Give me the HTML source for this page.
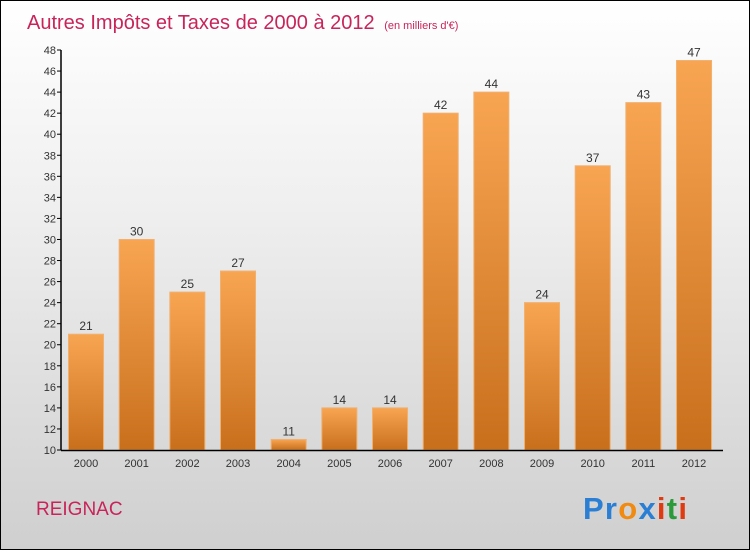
<!DOCTYPE html>
<html><head><meta charset="utf-8"><style>
body{margin:0;width:750px;height:550px;overflow:hidden;font-family:"Liberation Sans",sans-serif}
#c{position:absolute;left:0;top:0;width:748px;height:548px;border:1px solid #000;background:linear-gradient(#ffffff 0%,#eeeeee 40%,#cfcfcf 100%)}
</style></head><body>
<div id="c">
<svg width="748" height="548">
<defs><linearGradient id="bg" x1="0" y1="0" x2="0" y2="1"><stop offset="0" stop-color="#f8a552"/><stop offset="1" stop-color="#c86f1c"/></linearGradient></defs>
<text x="26" y="28" font-size="20" fill="#c8245a">Autres Impôts et Taxes de 2000 à 2012 <tspan font-size="11" dx="4">(en milliers d'€)</tspan></text>
<g id="plot"></g>
<text x="35" y="514" font-size="19" fill="#c8245a">REIGNAC</text>
<text x="582" y="518" font-size="31" font-weight="bold" textLength="104"><tspan fill="#2a7fd4">Pr</tspan><tspan fill="#f08a10">o</tspan><tspan fill="#2a7fd4">x</tspan><tspan fill="#e03a10">i</tspan><tspan fill="#2a9a3a">t</tspan><tspan fill="#e03a10">i</tspan></text>
</svg></div>
<script>
const years=["2000","2001","2002","2003","2004","2005","2006","2007","2008","2009","2010","2011","2012"];
const values=[21,30,25,27,11,14,14,42,44,24,37,43,47];
const yTicks=[10,12,14,16,18,20,22,24,26,28,30,32,34,36,38,40,42,44,46,48];
const NS="http://www.w3.org/2000/svg";
const g=document.getElementById('plot');
const x0=60,yBase=449,yTop=49,vmin=10,vmax=48;
const y=v=>yBase-(v-vmin)*(yBase-yTop)/(vmax-vmin);
const cx=i=>85+i*50.67;
function mk(t,a){const e=document.createElementNS(NS,t);for(const k in a)e.setAttribute(k,a[k]);g.appendChild(e);return e;}
values.forEach((v,i)=>{
 const r=mk('rect',{x:cx(i)-17.5,y:y(v),width:35,height:yBase-y(v),fill:'url(#bg)',stroke:'#f0b070','stroke-width':1});
 
 
 const t=mk('text',{x:cx(i),y:y(v)-4,'font-size':12,fill:'#333','text-anchor':'middle'});t.textContent=v;
 
 
 const xl=mk('text',{x:cx(i),y:466,'font-size':11,fill:'#333','text-anchor':'middle'});xl.textContent=years[i];
 
 
});
yTicks.forEach(v=>{
 mk('line',{x1:x0-4,x2:x0,y1:y(v),y2:y(v),stroke:'#000'});
 const t=mk('text',{x:x0-5,y:y(v)+4,'font-size':11,fill:'#333','text-anchor':'end'});t.textContent=v;
 
 
});
const ya=mk('line',{x1:x0,x2:x0,y1:yTop,y2:yBase+0.5,stroke:'#000','stroke-width':1.5});


const xa=mk('line',{x1:x0,x2:722,y1:yBase+0.5,y2:yBase+0.5,stroke:'#000','stroke-width':1.5});


</script>
</body></html>
